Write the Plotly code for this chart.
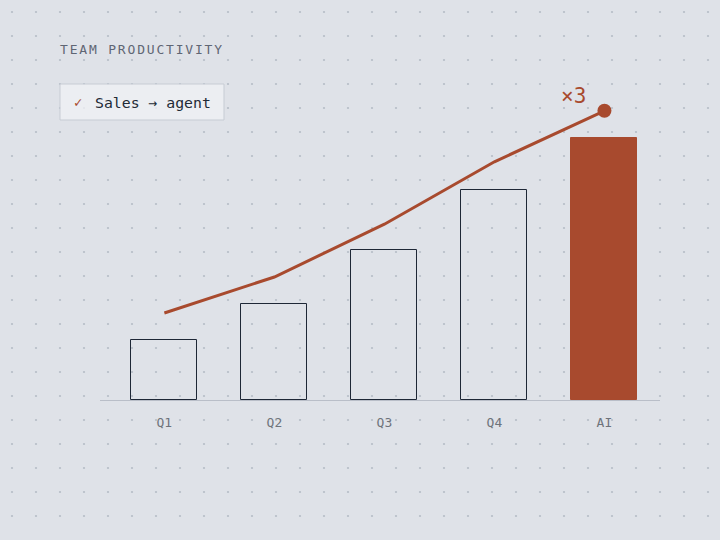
import numpy as np
import plotly.graph_objects as go

# chart values
quarters = ["Q1", "Q2", "Q3", "Q4", "AI"]
output_bars = [1.0, 1.6, 2.5, 3.5, 4.37]
trend_line = [1.45, 2.05, 2.93, 3.97, 4.82]

RUST = "#a84a2e"
INK = "#1e2736"
BG = "#dfe2e8"
W, H = 720, 540

# faint dot grid behind everything (decoration, 24px pitch)
gx, gy = np.meshgrid(np.arange(12, W, 24), np.arange(12, H, 24))

fig = go.Figure()
fig.add_trace(go.Scatter(
    x=gx.ravel(), y=gy.ravel(), mode="markers",
    marker=dict(size=2.2, color="rgba(150,158,172,0.55)"),
    hoverinfo="skip", showlegend=False, xaxis="x", yaxis="y"))

bar_fill = ["rgba(0,0,0,0)"] * 4 + [RUST]
bar_line = [INK] * 4 + [RUST]
fig.add_trace(go.Bar(
    x=quarters, y=output_bars, width=0.6,
    marker=dict(color=bar_fill, line=dict(color=bar_line, width=1)),
    showlegend=False, xaxis="x2", yaxis="y2"))

fig.add_trace(go.Scatter(
    x=quarters, y=trend_line, mode="lines",
    line=dict(color=RUST, width=3),
    showlegend=False, xaxis="x2", yaxis="y2"))
fig.add_trace(go.Scatter(
    x=quarters[-1:], y=trend_line[-1:], mode="markers",
    marker=dict(color=RUST, size=14),
    showlegend=False, xaxis="x2", yaxis="y2"))

mono = "DejaVu Sans Mono"
# widen the caption a little, like css letter-spacing
gap = "<span style='font-size:3px'>\u00a0</span>"
title = gap.join("TEAM PRODUCTIVITY")

fig.update_layout(
    width=W, height=H,
    margin=dict(l=0, r=0, t=0, b=0),
    paper_bgcolor=BG, plot_bgcolor="rgba(0,0,0,0)",
    xaxis=dict(range=[0, W], domain=[0, 1], visible=False, fixedrange=True),
    yaxis=dict(range=[H, 0], domain=[0, 1], visible=False, fixedrange=True),
    xaxis2=dict(domain=[100 / W, 660 / W], anchor="y2", type="category",
                range=[-0.585, 4.505], showgrid=False, zeroline=False,
                showline=True, linecolor="#b9bec8", linewidth=1,
                ticks="", ticklabelstandoff=10,
                tickfont=dict(family=mono, size=13, color="#6e737b")),
    yaxis2=dict(domain=[1 - 400 / H, 1 - 100 / H], anchor="x2",
                range=[0, 5], visible=False),
    bargap=0,
    shapes=[dict(type="rect", xref="paper", yref="paper",
                 x0=60 / W, x1=224 / W, y0=1 - 120 / H, y1=1 - 84 / H,
                 fillcolor="rgba(240,242,246,0.75)",
                 line=dict(color="#c7ccd4", width=1))],
    annotations=[
        dict(text=title,
             xref="paper", yref="paper", x=58 / W, y=1 - 49 / H,
             xanchor="left", yanchor="middle", showarrow=False,
             font=dict(family=mono, size=13, color="#5f6674")),
        dict(text="\u2713",
             xref="paper", yref="paper", x=72 / W, y=1 - 102 / H,
             xanchor="left", yanchor="middle", showarrow=False,
             font=dict(family=mono, size=14, color=RUST)),
        dict(text="Sales \u2192 agent",
             xref="paper", yref="paper", x=93 / W, y=1 - 102 / H,
             xanchor="left", yanchor="middle", showarrow=False,
             font=dict(family=mono, size=14.8, color="#222a36")),
        dict(text="\u00d73", x=quarters[-1], y=trend_line[-1],
             xref="x2", yref="y2", xshift=-31, yshift=15,
             showarrow=False,
             font=dict(family=mono, size=21, color=RUST)),
    ],
)

fig.write_html("out.html", config={"displayModeBar": False},
               post_script="document.body.style.margin='0';")
